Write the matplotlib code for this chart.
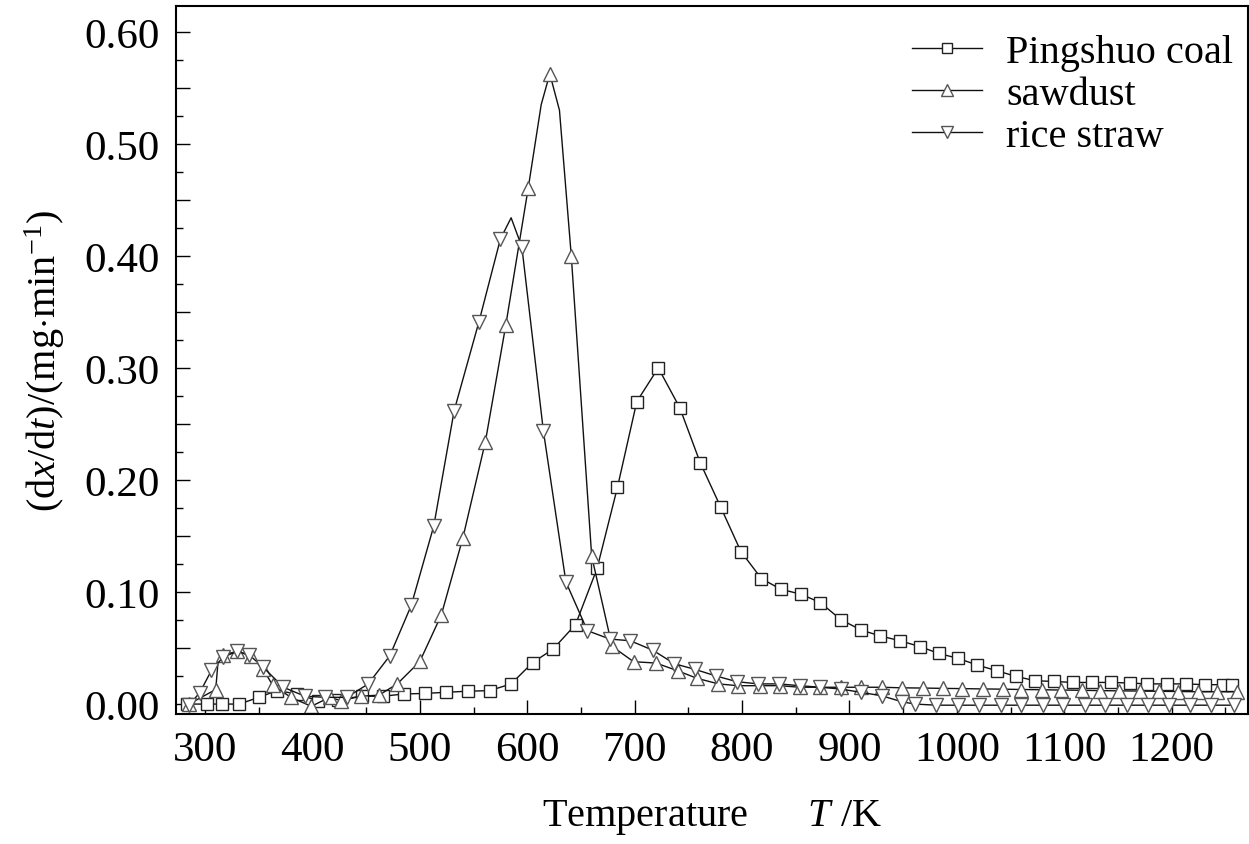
import matplotlib
matplotlib.use("Agg")
import matplotlib.pyplot as plt
from matplotlib.ticker import MultipleLocator, FuncFormatter

plt.rcParams['font.family'] = ['Liberation Serif', 'DejaVu Serif']
plt.rcParams['mathtext.fontset'] = 'custom'
plt.rcParams['mathtext.rm'] = 'Liberation Serif'
plt.rcParams['mathtext.it'] = 'Liberation Serif:italic'

# Pingshuo coal (squares)
coal_T = [283, 302, 316, 332, 350, 367, 386, 405, 424, 446, 466, 485, 505, 524,
          545, 565, 585, 605, 624, 645, 665, 684, 702, 722, 742, 761, 780, 799,
          818, 836, 855, 873, 892, 911, 928, 947, 966, 983, 1001, 1019, 1037,
          1055, 1073, 1090, 1108, 1126, 1143, 1161, 1177, 1196, 1213, 1231, 1248, 1256]
coal_v = [0.000, 0.000, 0.000, 0.000, 0.006, 0.012, 0.009, 0.003, 0.004, 0.007,
          0.007, 0.009, 0.0095, 0.0105, 0.0115, 0.012, 0.018, 0.037, 0.049, 0.071,
          0.121, 0.1935, 0.270, 0.300, 0.2645, 0.2155, 0.176, 0.136, 0.112, 0.1025,
          0.098, 0.0905, 0.0753, 0.066, 0.061, 0.0565, 0.0512, 0.0452, 0.0408,
          0.0348, 0.0298, 0.0247, 0.0208, 0.0202, 0.0193, 0.0193, 0.0193, 0.0188,
          0.018, 0.018, 0.018, 0.0173, 0.0173, 0.0173]

# sawdust (up triangles)
saw_T = [285, 310, 312, 317, 330, 343, 354, 363, 380, 399, 416, 427, 445, 462,
         479, 500, 520, 540, 561, 580, 601, 613, 621, 630, 641, 660, 679, 699, 720, 740,
         758, 778, 796, 817, 835, 854, 873, 892, 911, 930, 949, 968, 987, 1005,
         1024, 1043, 1060, 1079, 1097, 1116, 1133, 1151, 1170, 1188, 1206, 1224,
         1242, 1261]
saw_v = [0.000, 0.013, 0.036, 0.044, 0.047, 0.043, 0.031, 0.017, 0.006, -0.002,
         0.006, 0.003, 0.007, 0.008, 0.018, 0.038, 0.0795, 0.148, 0.234, 0.338,
         0.461, 0.535, 0.5625, 0.530, 0.400, 0.132, 0.0515, 0.0378, 0.0366, 0.0297, 0.023, 0.018,
         0.0164, 0.0164, 0.0164, 0.015, 0.015, 0.015, 0.015, 0.015, 0.0145, 0.0143,
         0.014, 0.0138, 0.0135, 0.0133, 0.013, 0.0128, 0.0125, 0.0123, 0.012,
         0.0118, 0.0116, 0.0114, 0.0112, 0.011, 0.011, 0.011]
saw_nomark = [2, 21, 23]

# rice straw (down triangles)
rice_T = [285, 295, 306, 317, 330, 341, 354, 373, 393, 412, 432, 452, 472, 492,
          513, 532, 555, 575, 585, 595, 615, 636, 656, 677, 696, 717, 737, 756,
          776, 795, 815, 834, 854, 873, 892, 911, 930, 949, 961, 981, 1001, 1021,
          1041, 1060, 1080, 1099, 1119, 1138, 1158, 1178, 1197, 1217, 1237, 1258]
rice_v = [-0.001, 0.010, 0.030, 0.042, 0.047, 0.044, 0.033, 0.015, 0.007, 0.006,
          0.006, 0.018, 0.043, 0.088, 0.159, 0.262, 0.341, 0.415, 0.434, 0.408,
          0.244, 0.109, 0.0655, 0.058, 0.0565, 0.048, 0.036, 0.031, 0.025, 0.020,
          0.018, 0.018, 0.0164, 0.015, 0.0134, 0.0104, 0.0074, 0.002, 0.000,
          -0.001, -0.001, -0.001, -0.001, -0.001, -0.001, -0.001, -0.001, -0.001,
          -0.001, -0.001, -0.001, -0.001, -0.001, -0.001]
rice_nomark = [18]

fig = plt.figure(figsize=(12.49, 8.45), dpi=100)
ax = fig.add_axes([0.1409, 0.1538, 0.8583, 0.8379])

line_kw = dict(color='#111111', lw=1.0, markerfacecolor='white', markeredgewidth=1.0)

ax.plot(coal_T, coal_v, marker='s', markersize=8.6, markeredgecolor='#222222',
        label='Pingshuo coal', **line_kw)
ax.plot(saw_T, saw_v, marker='^', markersize=10,
        markevery=[i for i in range(len(saw_T)) if i not in saw_nomark],
        markeredgecolor='#555555', label='sawdust', **line_kw)
ax.plot(rice_T, rice_v, marker='v', markersize=10,
        markevery=[i for i in range(len(rice_T)) if i not in rice_nomark],
        markeredgecolor='#555555', label='rice straw', **line_kw)

ax.set_xlim(273, 1271)
ax.set_ylim(-0.0089, 0.623)

ax.xaxis.set_major_locator(MultipleLocator(100))
ax.xaxis.set_minor_locator(MultipleLocator(50))
ax.yaxis.set_major_locator(MultipleLocator(0.05))
ax.yaxis.set_minor_locator(MultipleLocator(0.025))
ax.yaxis.set_major_formatter(FuncFormatter(
    lambda v, p: f'{v:.2f}' if abs(round(v * 10) - v * 10) < 1e-6 else ''))

ax.tick_params(which='both', direction='in', top=False, right=False,
               labelsize=31, width=1.0, pad=12)
ax.tick_params(which='major', length=10)
ax.tick_params(which='minor', length=5)
for s in ax.spines.values():
    s.set_linewidth(1.5)

ax.set_xlabel('Temperature      $\\it{T}$ /K', fontsize=29, labelpad=20)
ax.set_ylabel('(d$\\it{x}$/d$\\it{t}$)/(mg$\\cdot$min$^{-1}$)', fontsize=29, labelpad=12)

ax.legend(loc='upper right', bbox_to_anchor=(1.009, 0.995), frameon=False, fontsize=29,
          handlelength=1.75, handletextpad=0.6, labelspacing=0.12,
          borderaxespad=0.4, borderpad=0.2, markerscale=0.8)

fig.savefig('out.png', dpi=100)
